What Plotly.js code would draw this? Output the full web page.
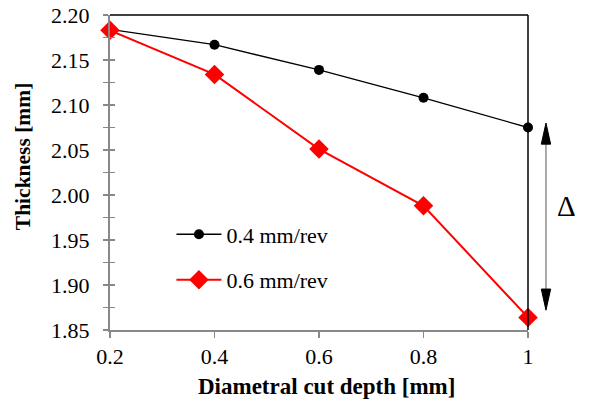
<!DOCTYPE html>
<html>
<head>
<meta charset="utf-8">
<script src="https://cdn.plot.ly/plotly-3.0.1.min.js"></script>
<style>html,body{margin:0;padding:0;background:#fff;}</style>
</head>
<body>
<div id="chart" style="width:591px;height:403px;"></div>
<script>
const depth = [0.2, 0.4, 0.6, 0.8, 1.0];
const feed04 = [2.184, 2.167, 2.139, 2.108, 2.075];
const feed06 = [2.183, 2.134, 2.051, 1.988, 1.864];
const seriesNames = ['0.4 mm/rev', '0.6 mm/rev'];
const xTitle = 'Diametral cut depth [mm]';
const yTitle = 'Thickness [mm]';
const deltaLabel = 'Δ';
const arrowTop = 2.080;
const arrowBottom = 1.872;

const font = "'Liberation Serif', 'Times New Roman', serif";

const traces = [
  {x: depth, y: feed04, name: seriesNames[0], mode: 'lines+markers', legendgroup: 'a',
   line: {color: '#000', width: 1.3}, marker: {symbol: 'circle', size: 10, color: '#000'},
   cliponaxis: false},
  {x: depth, y: feed06, name: seriesNames[1], mode: 'lines+markers', legendgroup: 'b',
   line: {color: '#ff0000', width: 2}, marker: {symbol: 'diamond', size: 15, color: '#ff0000'},
   cliponaxis: false},
  {x: [], y: [], yaxis: 'y2', showlegend: false, hoverinfo: 'skip'}
];

// arrow geometry (paper x, data y)
const ax = 1.043, hw = 0.0112, hl = 0.0235;

const tickFont = {family: font, size: 22, color: '#000'};

const layout = {
  width: 591, height: 403,
  margin: {l: 110, r: 63, t: 15, b: 73},
  paper_bgcolor: '#fff', plot_bgcolor: '#fff',
  font: {family: font, size: 22, color: '#000'},
  showlegend: true,
  legend: {x: 0.147, y: 0.37, xanchor: 'left', yanchor: 'top', bgcolor: 'rgba(0,0,0,0)',
           font: {family: font, size: 22}, tracegroupgap: 14, itemwidth: 45},
  xaxis: {range: [0.2, 1.0], dtick: 0.2, tick0: 0.2, showgrid: false, zeroline: false,
          showline: true, linecolor: '#888', linewidth: 2, ticks: 'outside', ticklen: 6,
          tickcolor: '#888', tickwidth: 1.5, tickfont: tickFont},
  yaxis: {range: [1.85, 2.20], dtick: 0.05, tick0: 1.85, showgrid: false, zeroline: false,
          showline: true, linecolor: '#888', linewidth: 2, ticks: 'outside', ticklen: 5,
          tickcolor: '#888', tickwidth: 1.5, tickformat: '.2f', tickfont: tickFont,
          ticklabelstandoff: 9,
          minor: {dtick: 0.025, tick0: 1.85, ticks: 'outside', ticklen: 5, tickcolor: '#888', tickwidth: 1.5}},
  yaxis2: {overlaying: 'y', side: 'left', anchor: 'x', range: [1.85, 2.20], dtick: 0.05, tick0: 1.85,
           showgrid: false, zeroline: false, showline: false, showticklabels: false,
           ticks: 'inside', ticklen: 5, tickcolor: '#888', tickwidth: 1.5,
           minor: {dtick: 0.025, tick0: 1.85, ticks: 'inside', ticklen: 5, tickcolor: '#888', tickwidth: 1.5}},
  shapes: [
    {type: 'line', xref: 'paper', yref: 'paper', x0: 0, x1: 1, y0: 1, y1: 1,
     line: {color: '#000', width: 1.5}},
    {type: 'line', xref: 'paper', yref: 'paper', x0: 1, x1: 1, y0: 0, y1: 1,
     line: {color: '#000', width: 1.5}},
    {type: 'line', xref: 'paper', yref: 'y', x0: ax, x1: ax, y0: arrowBottom + hl * 0.5, y1: arrowTop - hl * 0.5,
     line: {color: '#555', width: 1}},
    {type: 'path', xref: 'paper', yref: 'y',
     path: `M ${ax - hw} ${arrowTop - hl} L ${ax} ${arrowTop} L ${ax + hw} ${arrowTop - hl} Z`,
     fillcolor: '#000', line: {color: '#000', width: 1}},
    {type: 'path', xref: 'paper', yref: 'y',
     path: `M ${ax - hw} ${arrowBottom + hl} L ${ax} ${arrowBottom} L ${ax + hw} ${arrowBottom + hl} Z`,
     fillcolor: '#000', line: {color: '#000', width: 1}}
  ],
  annotations: [
    {xref: 'paper', yref: 'y', x: 1.12, y: 1.988, text: deltaLabel, showarrow: false,
     font: {family: font, size: 29, color: '#000'}},
    {xref: 'paper', yref: 'paper', x: 0.519, y: -0.178, text: '<b>' + xTitle + '</b>', showarrow: false,
     xanchor: 'center', yanchor: 'middle', font: {family: font, size: 23, color: '#000'}},
    {xref: 'paper', yref: 'paper', x: -0.208, y: 0.552, text: '<b>' + yTitle + '</b>', showarrow: false,
     textangle: -90, xanchor: 'center', yanchor: 'middle', font: {family: font, size: 21.5, color: '#000'}}
  ]
};

Plotly.newPlot('chart', traces, layout, {displayModeBar: false, staticPlot: true});
</script>
</body>
</html>
